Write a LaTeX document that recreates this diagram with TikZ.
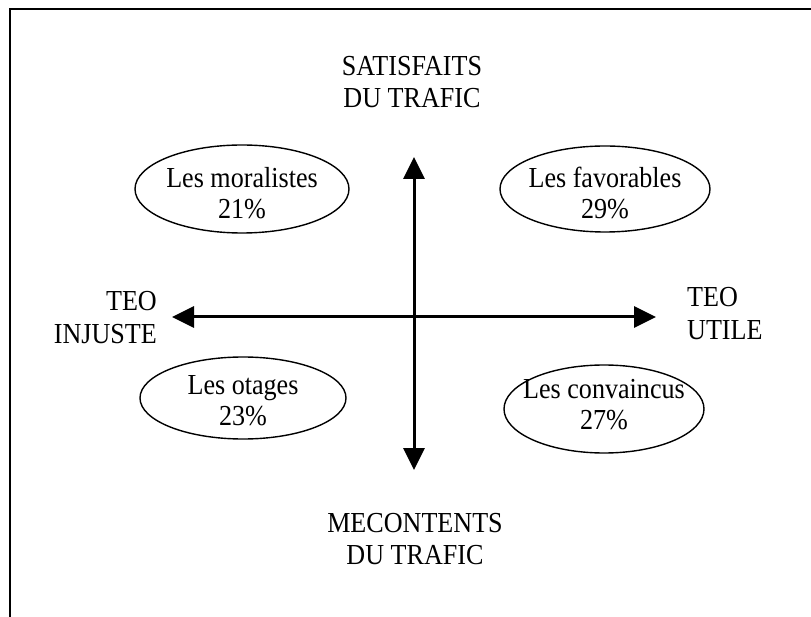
\documentclass[tikz,border=0pt]{standalone}
\usepackage{fontspec}
\setmainfont{Liberation Serif}[FakeStretch=0.9]
\usetikzlibrary{arrows.meta}
\begin{document}
\begin{tikzpicture}[x=1pt,y=-1pt,
  lbl/.style={font=\fontsize{29}{31}\selectfont, inner sep=0pt},
  axis/.style={line width=3pt, {Triangle[length=22pt,width=21pt]}-{Triangle[length=22pt,width=21pt]}},
  oval/.style={line width=1.4pt},
  frame/.style={line width=2.5pt}]
\useasboundingbox (0,0) rectangle (811,617);
% frame
\coordinate (fbl) at (10,617);
\coordinate (ftl) at (10,9);
\coordinate (ftr) at (811,9);
\draw[frame] (fbl) -- (ftl) -- (ftr);
% axes
\coordinate (top) at (414,157);
\coordinate (bot) at (414,470);
\coordinate (lft) at (172,317);
\coordinate (rgt) at (656,317);
\draw[axis] (bot) -- (top);
\draw[axis] (lft) -- (rgt);
% axis labels
\node[lbl, anchor=base] (sat1) at (412,76) {SATISFAITS};
\node[lbl, anchor=base] (sat2) at (412,108) {DU TRAFIC};
\node[lbl, anchor=base] (mec1) at (415,532) {MECONTENTS};
\node[lbl, anchor=base] (mec2) at (415,564) {DU TRAFIC};
\node[lbl, anchor=base east] (inj1) at (157,311) {TEO};
\node[lbl, anchor=base east] (inj2) at (157,344) {INJUSTE};
\node[lbl, anchor=base west] (uti1) at (687,307) {TEO};
\node[lbl, anchor=base west] (uti2) at (687,340) {UTILE};
% groups
\node[lbl, align=center] (mor) at (242,193) {Les moralistes\\21\%};
\draw[oval] (242,189) ellipse [x radius=107, y radius=44];
\node[lbl, align=center] (fav) at (605,193) {Les favorables\\29\%};
\draw[oval] (605,189) ellipse [x radius=105, y radius=43];
\node[lbl, align=center] (ota) at (243,401) {Les otages\\23\%};
\draw[oval] (243,398) ellipse [x radius=103, y radius=41];
\node[lbl, align=center] (con) at (604,405) {Les convaincus\\27\%};
\draw[oval] (604,409) ellipse [x radius=100, y radius=44];
\end{tikzpicture}
\end{document}
